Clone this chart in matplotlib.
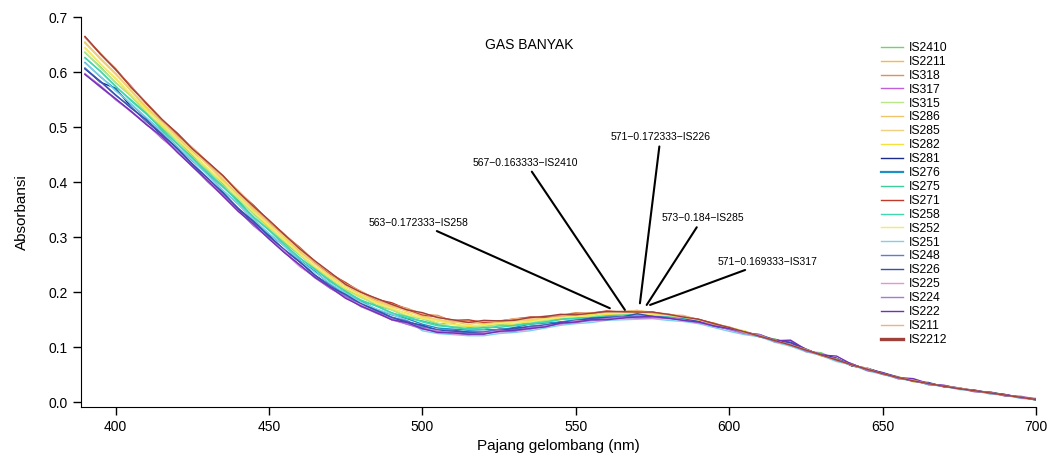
import numpy as np
import matplotlib
matplotlib.use("Agg")
import matplotlib.pyplot as plt

plt.rcParams['font.family'] = ['Liberation Sans', 'DejaVu Sans']

# wavelength grid (nm), 5 nm steps from 390 to 700
wavelength = np.arange(390, 701, 5)

# absorbance values x 1000
is2410 = [636, 610, 581, 557, 527, 499, 476, 448, 421, 397, 367, 343, 316, 290, 268, 246, 222, 205, 193, 176, 168, 156,
          152, 143, 143, 136, 138, 142, 140, 146, 148, 153, 153, 160, 159, 158, 161, 161, 156, 153, 150, 140, 136,
          129, 119, 115, 104, 93, 90, 78, 67, 62, 52, 44, 41, 33, 30, 25, 20, 19, 13, 10, 4]
is2211 = [655, 624, 597, 568, 535, 510, 485, 456, 433, 405, 377, 353, 325, 301, 274, 252, 232, 212, 195, 186, 174, 168,
          156, 148, 146, 148, 142, 145, 149, 149, 154, 155, 160, 160, 161, 164, 166, 160, 159, 156, 148, 144, 136,
          126, 122, 111, 105, 96, 85, 79, 68, 59, 53, 46, 38, 35, 28, 26, 21, 16, 14, 8, 6]
is318 = [663, 634, 607, 573, 544, 515, 486, 463, 437, 412, 382, 356, 331, 304, 282, 256, 233, 218, 198, 189, 178, 171,
         160, 158, 147, 147, 146, 147, 152, 154, 154, 158, 163, 161, 165, 165, 167, 162, 161, 154, 150, 144, 135,
         128, 119, 113, 103, 95, 87, 76, 69, 60, 51, 46, 39, 33, 30, 24, 22, 17, 12, 9, 5]
is317 = [597, 576, 550, 529, 507, 480, 457, 431, 401, 375, 349, 321, 299, 273, 247, 228, 207, 192, 174, 165, 150, 142,
         136, 126, 128, 124, 124, 131, 130, 133, 140, 143, 145, 152, 153, 153, 160, 155, 152, 152, 145, 137, 134,
         127, 123, 109, 112, 92, 88, 80, 66, 61, 54, 43, 41, 33, 31, 25, 19, 19, 11, 11, 6]
is315 = [637, 608, 582, 557, 526, 502, 475, 446, 423, 395, 370, 341, 316, 293, 269, 243, 224, 204, 190, 179, 168, 157,
         153, 144, 137, 139, 137, 140, 141, 148, 148, 150, 156, 157, 160, 159, 162, 159, 158, 152, 150, 141, 134,
         126, 121, 112, 103, 96, 85, 77, 67, 61, 51, 45, 38, 35, 28, 25, 22, 16, 13, 9, 4]
is286 = [654, 626, 598, 566, 537, 512, 482, 457, 433, 403, 379, 351, 324, 302, 275, 253, 229, 213, 196, 183, 176, 165,
         158, 149, 147, 141, 147, 145, 148, 149, 153, 158, 157, 161, 162, 165, 162, 162, 160, 155, 148, 143, 136,
         128, 120, 112, 104, 95, 86, 78, 68, 60, 52, 45, 40, 34, 29, 25, 21, 17, 13, 9, 5]
is285 = [653, 625, 596, 568, 538, 509, 483, 459, 431, 406, 378, 349, 326, 300, 277, 251, 230, 212, 198, 184, 173, 167,
         155, 151, 145, 146, 142, 147, 147, 151, 151, 157, 158, 162, 161, 164, 167, 164, 159, 154, 150, 142, 137,
         127, 121, 113, 102, 96, 86, 76, 69, 59, 52, 46, 39, 33, 30, 24, 21, 18, 13, 8, 5]
is282 = [645, 616, 588, 560, 534, 504, 479, 452, 425, 401, 373, 347, 319, 297, 271, 246, 227, 208, 192, 182, 170, 162,
         152, 149, 142, 138, 141, 144, 142, 148, 151, 152, 158, 159, 160, 160, 163, 160, 160, 153, 149, 143, 135,
         128, 120, 111, 104, 95, 87, 77, 68, 60, 51, 45, 39, 34, 29, 25, 21, 17, 13, 9, 6]
is281 = [607, 582, 571, 537, 511, 487, 463, 433, 407, 381, 351, 327, 303, 277, 256, 231, 212, 193, 179, 168, 154, 146,
         139, 131, 131, 127, 127, 133, 133, 138, 140, 146, 148, 152, 151, 155, 157, 157, 154, 150, 147, 140, 133,
         129, 119, 114, 108, 93, 87, 80, 66, 62, 53, 44, 41, 32, 30, 26, 20, 18, 14, 8, 6]
is276 = [618, 592, 569, 542, 517, 493, 465, 439, 415, 385, 360, 332, 306, 284, 258, 238, 214, 198, 184, 169, 159, 152,
         142, 135, 133, 131, 132, 132, 136, 142, 144, 146, 150, 154, 155, 156, 158, 157, 156, 152, 146, 140, 135,
         126, 120, 112, 103, 95, 86, 76, 68, 59, 52, 45, 39, 34, 29, 25, 21, 17, 13, 9, 5]
is275 = [627, 602, 574, 550, 525, 496, 470, 445, 417, 391, 366, 336, 313, 287, 262, 242, 219, 202, 185, 175, 163, 153,
         148, 141, 136, 133, 136, 136, 140, 142, 146, 151, 153, 154, 157, 159, 158, 158, 157, 153, 148, 140, 134,
         127, 121, 112, 104, 94, 86, 77, 68, 60, 52, 45, 39, 34, 29, 25, 21, 17, 13, 9, 5]
is271 = [665, 633, 605, 575, 543, 514, 490, 462, 436, 411, 383, 358, 329, 305, 281, 255, 234, 217, 201, 187, 181, 169,
         159, 155, 149, 150, 145, 148, 151, 155, 155, 158, 161, 162, 166, 164, 165, 164, 159, 156, 151, 143, 135,
         129, 120, 113, 104, 96, 86, 77, 68, 61, 52, 45, 39, 34, 29, 25, 21, 17, 13, 9, 5]
is258 = [626, 602, 575, 548, 524, 497, 471, 443, 418, 393, 363, 337, 313, 286, 263, 241, 221, 200, 186, 175, 162, 156,
         146, 139, 137, 134, 133, 139, 139, 144, 145, 151, 152, 156, 163, 161, 159, 157, 157, 153, 146, 142, 134,
         126, 121, 112, 103, 95, 86, 77, 69, 60, 51, 45, 39, 34, 30, 25, 21, 17, 13, 9, 5]
is252 = [644, 615, 590, 560, 531, 507, 478, 453, 426, 400, 374, 345, 322, 295, 270, 247, 227, 207, 195, 180, 171, 160,
         153, 148, 141, 140, 140, 143, 146, 146, 151, 154, 156, 157, 162, 161, 163, 159, 158, 155, 149, 141, 136,
         130, 119, 114, 102, 97, 84, 79, 67, 62, 50, 47, 37, 35, 28, 26, 20, 18, 12, 10, 4]
is251 = [617, 593, 566, 543, 518, 492, 465, 440, 413, 385, 360, 332, 307, 284, 257, 236, 216, 198, 182, 170, 160, 149,
         130, 125, 123, 121, 121, 125, 127, 130, 135, 140, 143, 145, 149, 150, 151, 152, 149, 147, 143, 136, 129,
         123, 119, 109, 102, 92, 85, 74, 68, 57, 51, 43, 39, 32, 29, 23, 21, 15, 13, 7, 5]
is248 = [608, 583, 558, 537, 512, 489, 460, 434, 408, 379, 353, 328, 301, 278, 256, 230, 212, 194, 178, 167, 155, 148,
         137, 132, 130, 126, 128, 132, 132, 138, 141, 143, 149, 151, 155, 154, 156, 156, 154, 150, 146, 141, 133,
         127, 119, 112, 104, 94, 86, 77, 68, 60, 51, 45, 39, 33, 29, 25, 21, 17, 13, 9, 5]
is226 = [606, 584, 559, 535, 514, 487, 462, 433, 407, 381, 352, 329, 302, 277, 255, 231, 210, 196, 179, 167, 154, 146,
         140, 131, 129, 128, 127, 130, 135, 137, 140, 145, 148, 153, 154, 155, 161, 156, 153, 151, 147, 139, 133,
         126, 123, 113, 109, 97, 85, 78, 70, 58, 54, 46, 38, 36, 28, 26, 20, 18, 12, 10, 4]
is225 = [598, 574, 552, 528, 506, 483, 456, 428, 404, 375, 347, 323, 297, 275, 248, 227, 208, 189, 177, 162, 150, 143,
         134, 130, 124, 124, 126, 130, 130, 133, 139, 142, 148, 148, 151, 154, 154, 153, 154, 150, 144, 140, 133,
         127, 120, 112, 104, 95, 86, 77, 68, 61, 52, 45, 39, 34, 29, 25, 21, 17, 13, 9, 6]
is224 = [597, 573, 551, 530, 505, 482, 458, 429, 401, 376, 348, 321, 298, 273, 250, 226, 207, 192, 174, 162, 152, 142,
         133, 129, 127, 123, 125, 128, 129, 136, 138, 143, 145, 149, 152, 155, 153, 154, 154, 149, 145, 141, 132,
         125, 123, 110, 106, 93, 88, 76, 70, 58, 53, 43, 41, 33, 31, 24, 22, 16, 14, 8, 7]
is222 = [596, 574, 552, 529, 505, 484, 455, 429, 403, 375, 347, 324, 297, 272, 250, 227, 209, 189, 175, 163, 150, 145,
         134, 127, 126, 124, 124, 129, 131, 134, 137, 144, 146, 150, 150, 153, 155, 156, 153, 149, 146, 139, 134,
         128, 121, 112, 113, 96, 86, 84, 69, 60, 53, 45, 43, 34, 30, 25, 22, 17, 14, 9, 6]
is211 = [664, 635, 604, 574, 545, 514, 488, 463, 436, 410, 385, 356, 329, 306, 280, 255, 235, 215, 202, 187, 178, 170,
         161, 156, 148, 146, 147, 147, 152, 153, 157, 157, 160, 163, 164, 164, 166, 163, 159, 158, 150, 142, 137,
         127, 121, 112, 104, 96, 85, 77, 68, 60, 52, 45, 40, 34, 29, 26, 21, 17, 13, 9, 5]
is2212 = [665, 634, 605, 573, 544, 515, 489, 461, 437, 412, 382, 356, 331, 305, 279, 257, 236, 214, 200, 189, 178, 168,
          163, 154, 150, 145, 149, 148, 149, 154, 156, 160, 159, 162, 165, 165, 164, 164, 160, 155, 151, 143, 136,
          128, 120, 112, 104, 95, 86, 77, 68, 60, 52, 45, 39, 34, 29, 25, 21, 17, 13, 9, 5]

series = [
    ("IS2410", is2410, "#6fd36f"),
    ("IS2211", is2211, "#f5b84a"),
    ("IS318", is318, "#e0905a"),
    ("IS317", is317, "#c060d8"),
    ("IS315", is315, "#bce68a"),
    ("IS286", is286, "#f2c46a"),
    ("IS285", is285, "#f0d080"),
    ("IS282", is282, "#f5e03c"),
    ("IS281", is281, "#1a2a8a"),
    ("IS276", is276, "#1e90c8"),
    ("IS275", is275, "#3ccf9a"),
    ("IS271", is271, "#c0392b"),
    ("IS258", is258, "#40d8b0"),
    ("IS252", is252, "#f2ec6a"),
    ("IS251", is251, "#7fd0e8"),
    ("IS248", is248, "#5a7fd0"),
    ("IS226", is226, "#3650b0"),
    ("IS225", is225, "#e890d8"),
    ("IS224", is224, "#a878d8"),
    ("IS222", is222, "#7030b8"),
    ("IS211", is211, "#f0b080"),
    ("IS2212", is2212, "#a0403a"),
]

# Igor-style tags: text, point, text position
tag_text = ["563\u22120.172333\u2212IS258", "567\u22120.163333\u2212IS2410", "571\u22120.172333\u2212IS226",
            "573\u22120.184\u2212IS285", "571\u22120.169333\u2212IS317"]
tag_xy = [(561.1, 0.171), (566.0, 0.168), (570.9, 0.180), (573.1, 0.177), (574.2, 0.177)]
tag_pos = [(498.6, 0.3265), (533.7, 0.4356), (577.6, 0.4818), (591.3, 0.3345), (612.5, 0.2556)]

fig = plt.figure(figsize=(10.49, 4.57), dpi=100)
ax = fig.add_axes([0.0772, 0.1101, 0.9104, 0.852])

for name, vals, col in series:
    ax.plot(wavelength, np.array(vals) / 1000.0, color=col, lw=1.0, label=name)

for txt, xy, pos in zip(tag_text, tag_xy, tag_pos):
    ax.annotate(txt, xy=xy, xytext=pos, ha='center', va='center', fontsize=7.5,
                arrowprops=dict(arrowstyle='-', color='black', lw=1.5, shrinkA=1, shrinkB=0))

ax.text(534.7, 0.6496, "GAS BANYAK", ha='center', va='center', fontsize=10)

ax.set_xlim(388.7, 700)
ax.set_ylim(-0.008, 0.7)
ax.set_xticks([400, 450, 500, 550, 600, 650, 700])
ax.set_yticks([0.0, 0.1, 0.2, 0.3, 0.4, 0.5, 0.6, 0.7])
ax.yaxis.set_major_formatter(matplotlib.ticker.FormatStrFormatter('%.1f'))
ax.tick_params(direction='out', length=5.8, width=1, labelsize=10)
ax.spines['top'].set_visible(False)
ax.spines['right'].set_visible(False)
ax.set_xlabel("Pajang gelombang (nm)", fontsize=11)
ax.set_ylabel("Absorbansi", fontsize=11, labelpad=14)

leg = ax.legend(loc='upper left', bbox_to_anchor=(0.8374, 0.9366), frameon=False, fontsize=8.7,
                handlelength=1.84, handletextpad=0.45, labelspacing=0.157, borderpad=0, borderaxespad=0)
leg.get_lines()[-1].set_linewidth(2.4)
leg.get_lines()[9].set_linewidth(1.6)

fig.savefig("out.png", dpi=100)
